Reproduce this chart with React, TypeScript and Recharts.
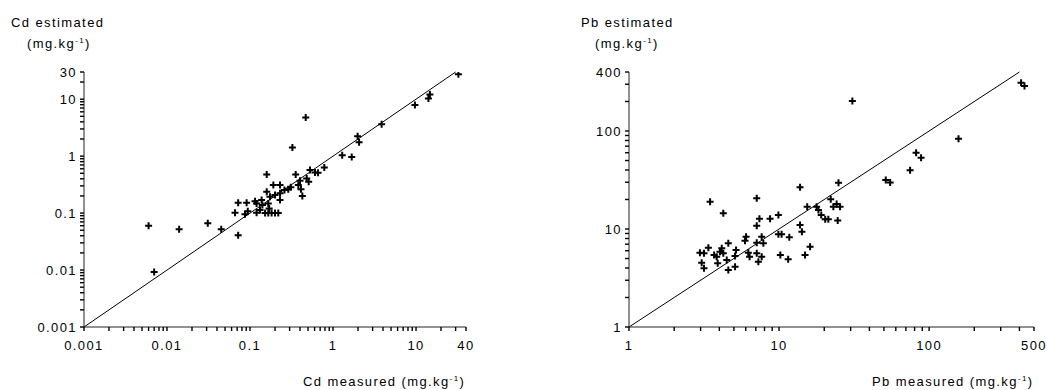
import React from 'react';
import { ReferenceLine, Scatter, ScatterChart, XAxis, YAxis } from 'recharts';

// Cd: measured vs estimated (mg/kg)
const cdMeasured = [0.006, 0.007, 0.014, 0.031, 0.045, 0.066, 0.072, 0.072, 0.091, 0.087, 0.094, 0.115, 0.12, 0.12, 0.132, 0.138, 0.141, 0.152, 0.159, 0.159, 0.166, 0.166, 0.17, 0.174, 0.182, 0.191, 0.2, 0.2, 0.219, 0.23, 0.23, 0.23, 0.26, 0.289, 0.324, 0.31, 0.355, 0.382, 0.4, 0.411, 0.427, 0.482, 0.509, 0.469, 0.528, 0.607, 0.66, 0.785, 1.29, 1.68, 1.98, 2.06, 3.85, 9.7, 14.1, 14.7, 32.4];
const cdEstimated = [0.06, 0.0092, 0.052, 0.066, 0.052, 0.101, 0.041, 0.152, 0.152, 0.095, 0.108, 0.162, 0.148, 0.101, 0.113, 0.169, 0.138, 0.1, 0.237, 0.477, 0.148, 0.1, 0.12, 0.193, 0.1, 0.31, 0.207, 0.1, 0.1, 0.31, 0.222, 0.169, 0.255, 0.261, 1.42, 0.285, 0.477, 0.31, 0.369, 0.261, 0.199, 0.406, 0.354, 4.78, 0.568, 0.517, 0.51, 0.634, 1.04, 0.97, 2.24, 1.76, 3.64, 7.9, 10.3, 12.1, 27.5];

// Pb: measured vs estimated (mg/kg)
const pbMeasured = [410, 432, 30.8, 157, 81.9, 88.4, 74.7, 51.4, 55, 24.9, 13.8, 3.47, 7.1, 4.25, 15.4, 17.8, 22.1, 18.3, 23, 24.2, 25.5, 19.1, 20.3, 21.3, 24.6, 13.8, 14.2, 16.1, 14.9, 11.5, 10.2, 9.9, 10.4, 11.7, 9.9, 8.71, 7.4, 7.1, 7.66, 7.86, 7.1, 6.03, 5.93, 4.59, 3.38, 2.97, 3.16, 3.69, 3.84, 4.04, 4.15, 4.25, 5.17, 5.09, 6.24, 6.36, 7.1, 7.28, 7.66, 3.05, 3.16, 3.9, 4.48, 4.59, 5.09];
const pbEstimated = [311, 288, 202, 83.5, 60.1, 53.4, 39.7, 31.6, 29.9, 29.7, 26.6, 19, 20.6, 14.5, 16.9, 16.9, 20.1, 15.6, 16.9, 18, 16.9, 13.9, 12.6, 12.6, 12.2, 11, 9.4, 6.6, 5.43, 4.91, 5.43, 8.83, 8.83, 8.22, 13.9, 12.7, 12.7, 10.8, 8.34, 7.15, 7.25, 8.34, 7.6, 7.15, 6.44, 5.73, 5.65, 5.43, 5.21, 5.87, 6.35, 5.65, 6.1, 5.3, 5.73, 5.21, 5.65, 4.64, 5.21, 4.53, 3.97, 4.47, 4.83, 3.82, 4.12];

// 1:1 lines
const cdLine = [0.001, 30];
const pbLine = [1, 400];

// axis ticks (log, with minor ticks)
const cdXTicks = [0.001, 0.002, 0.003, 0.004, 0.005, 0.006, 0.007, 0.008, 0.009, 0.01, 0.02, 0.03, 0.04, 0.05, 0.06, 0.07, 0.08, 0.09, 0.1, 0.2, 0.3, 0.4, 0.5, 0.6, 0.7, 0.8, 0.9, 1, 2, 3, 4, 5, 6, 7, 8, 9, 10, 20, 30, 40];
const cdYTicks = [0.001, 0.002, 0.003, 0.004, 0.005, 0.006, 0.007, 0.008, 0.009, 0.01, 0.02, 0.03, 0.04, 0.05, 0.06, 0.07, 0.08, 0.09, 0.1, 0.2, 0.3, 0.4, 0.5, 0.6, 0.7, 0.8, 0.9, 1, 2, 3, 4, 5, 6, 7, 8, 9, 10, 20, 30];
const cdXLabels = [0.001, 0.01, 0.1, 1, 10, 40];
const cdYLabels = [0.001, 0.01, 0.1, 1, 10, 30];
const pbXTicks = [1, 2, 3, 4, 5, 6, 7, 8, 9, 10, 20, 30, 40, 50, 60, 70, 80, 90, 100, 200, 300, 400, 500];
const pbYTicks = [1, 2, 3, 4, 5, 6, 7, 8, 9, 10, 20, 30, 40, 50, 60, 70, 80, 90, 100, 200, 300, 400];
const pbXLabels = [1, 10, 100, 500];
const pbYLabels = [1, 10, 100, 400];

const FONT = '"Liberation Sans", Arial, sans-serif';
const TICK = 4;
const X_GAP = 10;
const Y_GAP = 3;

const Cross = (props: any) => {
  const { cx, cy } = props;
  if (cx == null || cy == null) return <g />;
  return (
    <path
      d={`M${cx - 3.5},${cy}H${cx + 3.5}M${cx},${cy - 3.5}V${cy + 3.5}`}
      stroke="#000"
      strokeWidth={2}
    />
  );
};

// every tick gets a short mark, only the decades get a label
const makeTick = (labels: number[], axis: 'x' | 'y') => (props: any) => {
  const { x, y, payload } = props;
  const hasLabel = labels.includes(payload.value);
  const mark = axis === 'x'
    ? <path d={`M${x},${y - X_GAP - TICK}V${y - X_GAP}`} stroke="#000" strokeWidth={1.4} />
    : <path d={`M${x + Y_GAP},${y}H${x + Y_GAP + TICK}`} stroke="#000" strokeWidth={1.4} />;
  return (
    <g>
      {mark}
      {hasLabel && (
        <text
          x={x}
          y={y}
          dy={axis === 'x' ? '0.71em' : '0.36em'}
          textAnchor={axis === 'x' ? 'middle' : 'end'}
          fontFamily={FONT}
          fontSize={13}
          letterSpacing={1.4}
          fill="#000"
        >
          {String(payload.value)}
        </text>
      )}
    </g>
  );
};

function Panel({ left, width, margin, xs, ys, line, xTicks, yTicks, xLabels, yLabels, xDomain, yDomain }: any) {
  const data = xs.map((v: number, i: number) => ({ x: v, y: ys[i] }));
  return (
    <div style={{ position: 'absolute', left, top: 0 }}>
      <ScatterChart width={width} height={390} margin={margin}>
        <XAxis
          type="number"
          dataKey="x"
          scale="log"
          domain={xDomain}
          allowDataOverflow
          ticks={xTicks}
          interval={0}
          tickSize={TICK}
          tickMargin={X_GAP}
          height={30}
          axisLine={{ stroke: '#222' }}
          tickLine={false}
          tick={makeTick(xLabels, 'x')}
        />
        <YAxis
          type="number"
          dataKey="y"
          scale="log"
          domain={yDomain}
          allowDataOverflow
          ticks={yTicks}
          interval={0}
          tickSize={TICK}
          tickMargin={Y_GAP}
          width={60}
          axisLine={{ stroke: '#222' }}
          tickLine={false}
          tick={makeTick(yLabels, 'y')}
        />
        <ReferenceLine
          segment={[{ x: line[0], y: line[0] }, { x: line[1], y: line[1] }]}
          stroke="#000"
          strokeWidth={1}
        />
        <Scatter data={data} shape={Cross} isAnimationActive={false} />
      </ScatterChart>
    </div>
  );
}

const Unit = () => (
  <>
    (mg.kg<tspan fontSize={8} dy={-5}>-1</tspan>
    <tspan dy={5}>)</tspan>
  </>
);

export default function App() {
  const textProps = { fontFamily: FONT, fontSize: 13, letterSpacing: 1.4, fill: '#000' };
  return (
    <div style={{ position: 'absolute', left: 0, top: 0, width: 1047, height: 390, background: '#fff' }}>
      <Panel
        left={0}
        width={520}
        margin={{ top: 72, right: 54, left: 24, bottom: 33 }}
        xs={cdMeasured}
        ys={cdEstimated}
        line={cdLine}
        xTicks={cdXTicks}
        yTicks={cdYTicks}
        xLabels={cdXLabels}
        yLabels={cdYLabels}
        xDomain={[0.001, 40]}
        yDomain={[0.001, 30]}
      />
      <Panel
        left={520}
        width={527}
        margin={{ top: 72, right: 13, left: 49, bottom: 33 }}
        xs={pbMeasured}
        ys={pbEstimated}
        line={pbLine}
        xTicks={pbXTicks}
        yTicks={pbYTicks}
        xLabels={pbXLabels}
        yLabels={pbYLabels}
        xDomain={[1, 500]}
        yDomain={[1, 400]}
      />
      <svg width={1047} height={390} style={{ position: 'absolute', left: 0, top: 0, pointerEvents: 'none' }}>
        <text x={11} y={27} {...textProps}>Cd estimated</text>
        <text x={27} y={48} {...textProps}><Unit /></text>
        <text x={303} y={386} {...textProps}>Cd measured <Unit /></text>
        <text x={581} y={27} {...textProps}>Pb estimated</text>
        <text x={595} y={48} {...textProps}><Unit /></text>
        <text x={872} y={386} {...textProps}>Pb measured <Unit /></text>
      </svg>
    </div>
  );
}
